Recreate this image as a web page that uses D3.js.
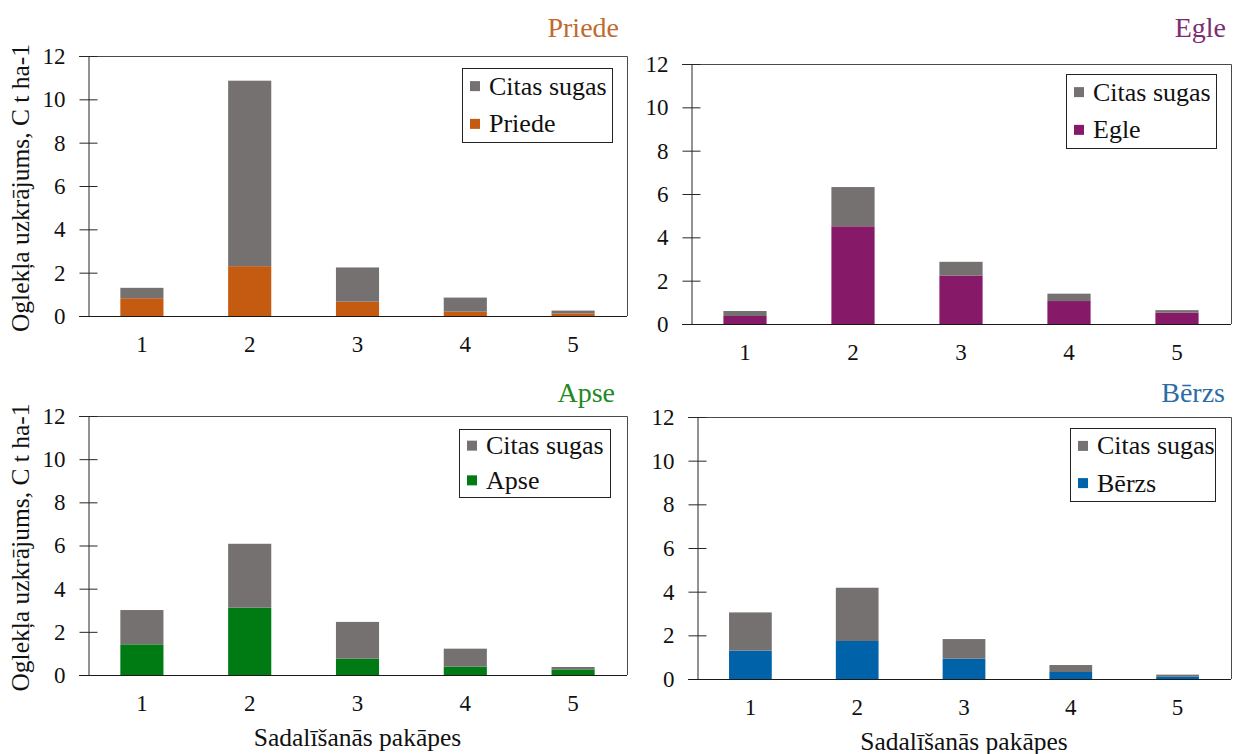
<!DOCTYPE html>
<html>
<head>
<meta charset="utf-8">
<script src="https://cdn.jsdelivr.net/npm/d3@7"></script>
<style>
  html, body { margin: 0; padding: 0; background: #fff; }
  svg { display: block; }
  svg text { font-family: "Liberation Serif", "Times New Roman", Times, "DejaVu Serif", serif !important; }
</style>
</head>
<body>
<svg id="chart" width="1233" height="754"></svg>
<script>
// Decomposition classes (x axis) and y-axis ticks
const categories = ["1", "2", "3", "4", "5"];
const yTicks = [0, 2, 4, 6, 8, 10, 12];
const otherLabel = "Citas sugas";

// Carbon stock, C t/ha: main species and other species per decomposition class
const priedeMain  = [0.82, 2.30, 0.66, 0.20, 0.12];
const priedeOther = [0.48, 8.56, 1.58, 0.65, 0.13];

const egleMain  = [0.37, 4.51, 2.24, 1.06, 0.52];
const egleOther = [0.23, 1.81, 0.63, 0.34, 0.12];

const apseMain  = [1.42, 3.12, 0.76, 0.39, 0.26];
const apseOther = [1.59, 2.96, 1.70, 0.83, 0.11];

const berzsMain  = [1.30, 1.74, 0.93, 0.32, 0.12];
const berzsOther = [1.75, 2.44, 0.90, 0.32, 0.08];

const svg = d3.select("#chart");
const GRAY = "#767171";
const FONT = "'Liberation Serif', 'Times New Roman', Times, 'DejaVu Serif', serif";

const panels = [
  { name: "Priede", main: priedeMain, other: priedeOther, color: "#C55A11", titleColor: "#C26A2E",
    box: { l: 88, r: 627, t: 56, b: 316 }, yTitle: true, xTitle: false,
    legend: { x: 462, y: 68, w: 150, h: 74 }, titleX: 619, titleY: 27 },
  { name: "Egle", main: egleMain, other: egleOther, color: "#861A69", titleColor: "#7E2D70",
    box: { l: 691, r: 1231, t: 64, b: 324 }, yTitle: false, xTitle: false,
    legend: { x: 1066, y: 74, w: 150, h: 74 }, titleX: 1226, titleY: 27 },
  { name: "Apse", main: apseMain, other: apseOther, color: "#007A12", titleColor: "#1E8A22",
    box: { l: 88, r: 627, t: 416, b: 675 }, yTitle: true, xTitle: true,
    legend: { x: 459, y: 429, w: 151, h: 68 }, titleX: 615, titleY: 392 },
  { name: "Bērzs", main: berzsMain, other: berzsOther, color: "#0062A8", titleColor: "#2A6CA6",
    box: { l: 697, r: 1231, t: 417, b: 679 }, yTitle: false, xTitle: true,
    legend: { x: 1070, y: 428, w: 145, h: 73 }, titleX: 1225, titleY: 392 }
];

panels.forEach(p => {
  const { l, r, t, b } = p.box;
  const g = svg.append("g").style("font-family", FONT);

  const x = d3.scaleBand().domain(categories).range([l, r])
    .paddingInner(0.6).paddingOuter(0.3);
  const y = d3.scaleLinear().domain([0, 12]).range([b, t]);

  // stacked series: main species at the bottom, other species on top
  const rows = categories.map((c, i) => ({ cat: c, main: p.main[i], other: p.other[i] }));
  const stacked = d3.stack().keys(["main", "other"])(rows);
  const fills = { main: p.color, other: GRAY };

  g.selectAll("g.series").data(stacked).join("g")
    .attr("fill", s => fills[s.key])
    .selectAll("rect").data(s => s).join("rect")
    .attr("x", d => x(d.data.cat))
    .attr("width", x.bandwidth())
    .attr("y", d => y(d[1]))
    .attr("height", d => y(d[0]) - y(d[1]));

  // plot-area frame (top and right edges)
  g.append("path")
    .attr("d", `M${l - 9},${t + 0.5}H${r + 0.5}V${b}`)
    .attr("fill", "none").attr("stroke", "#4a4a4a").attr("stroke-width", 1);

  // y axis with crossing tick marks
  const yAxis = g.append("g").attr("transform", `translate(${l + 0.5},0)`)
    .call(d3.axisLeft(y).tickValues(yTicks).tickSize(9).tickPadding(14).tickFormat(d3.format("d")));
  yAxis.attr("font-family", null);
  yAxis.select(".domain").attr("stroke", "#262626");
  yAxis.selectAll(".tick line").attr("x1", 9).attr("stroke", "#262626");
  yAxis.selectAll(".tick text").attr("font-size", 23).attr("fill", "#111");

  // x axis: baseline only, labels below
  const xAxis = g.append("g").attr("transform", `translate(0,${b + 0.5})`)
    .call(d3.axisBottom(x).tickSize(0).tickPadding(19));
  xAxis.attr("font-family", null);
  xAxis.select(".domain").attr("d", `M${l - 9},0H${r}`).attr("stroke", "#1a1a1a");
  xAxis.selectAll(".tick text").attr("font-size", 23).attr("fill", "#111");

  // panel title
  g.append("text").attr("x", p.titleX).attr("y", p.titleY)
    .attr("text-anchor", "end").attr("dominant-baseline", "central")
    .attr("font-size", 28).attr("fill", p.titleColor).text(p.name);

  // legend
  const L = p.legend;
  const lg = g.append("g").attr("transform", `translate(${L.x},${L.y})`);
  lg.append("rect").attr("x", 0.5).attr("y", 0.5).attr("width", L.w).attr("height", L.h)
    .attr("fill", "#fff").attr("stroke", "#222").attr("stroke-width", 1);
  const items = [{ label: otherLabel, color: GRAY }, { label: p.name, color: p.color }];
  const rowY = [L.h * 0.245, L.h * 0.755];
  items.forEach((it, i) => {
    lg.append("rect").attr("x", 8).attr("y", rowY[i] - 5).attr("width", 10).attr("height", 10)
      .attr("fill", it.color);
    lg.append("text").attr("x", 27).attr("y", rowY[i]).attr("dominant-baseline", "central")
      .attr("font-size", 26).attr("fill", "#111").text(it.label);
  });

  // axis titles
  if (p.yTitle) {
    g.append("text")
      .attr("transform", `translate(29,${(t + b) / 2 + 2}) rotate(-90)`)
      .attr("text-anchor", "middle").attr("font-size", 25.5).attr("fill", "#111")
      .text("Oglekļa uzkrājums, C t ha-1");
  }
  if (p.xTitle) {
    g.append("text").attr("x", (l + r) / 2).attr("y", b + 62)
      .attr("text-anchor", "middle").attr("dominant-baseline", "central")
      .attr("font-size", 25.5).attr("fill", "#111").text("Sadalīšanās pakāpes");
  }
});
</script>
</body>
</html>
